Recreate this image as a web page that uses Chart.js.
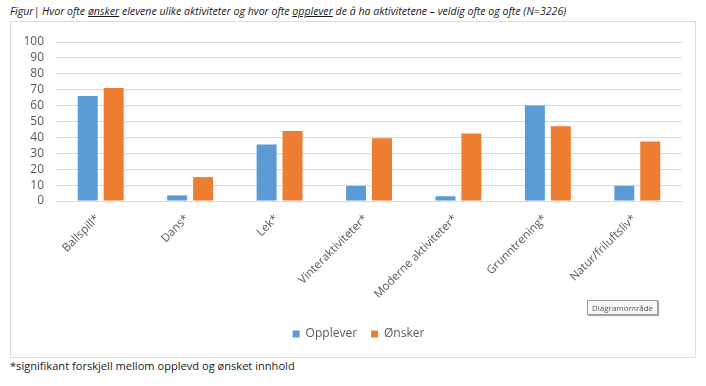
<!DOCTYPE html>
<html>
<head>
<meta charset="utf-8">
<script src="https://cdn.jsdelivr.net/npm/chart.js@4/dist/chart.umd.min.js"></script>
<style>
    body { margin: 0; background: #ffffff; width: 706px; height: 386px; position: relative; overflow: hidden; font-family: "Open Sans", sans-serif; }
    #title { position: absolute; left: 10px; top: 4px; font-size: 10.6px; font-style: italic; color: #1a1a1a; white-space: nowrap; }
    #box { position: absolute; left: 10px; top: 21px; width: 684px; height: 335px; border: 1px solid #dcdcdc; }
    #note { position: absolute; left: 10px; top: 358px; font-size: 11.1px; color: #1a1a1a; white-space: nowrap; }
    #tip { position: absolute; left: 587px; top: 300px; font-size: 8px; color: #555; border: 1px solid #9a9a9a; background: #f8f8f8; padding: 1px 4px; box-shadow: 1px 1px 1px #aaa; }
</style>
</head>
<body>
<div id="title">Figur| Hvor ofte <u>ønsker</u> elevene ulike aktiviteter og hvor ofte <u>opplever</u> de å ha aktivitetene – veldig ofte og ofte (N=3226)</div>
<div id="box"><canvas id="chart" width="684" height="335"></canvas></div>
<div id="tip">Diagramområde</div>
<div id="note">*signifikant forskjell mellom opplevd og ønsket innhold</div>
<script>
const categories = ['Ballspill*', 'Dans*', 'Lek*', 'Vinteraktiviteter*', 'Moderne aktiviteter*', 'Grunntrening*', 'Natur/friluftsliv*'];
const opplever = [66, 3.5, 35.5, 9.5, 3, 60, 9.5];
const onsker = [71, 15, 44, 39.5, 42.5, 47, 37.5];
const yTicks = [0, 10, 20, 30, 40, 50, 60, 70, 80, 90, 100];

// legend in the original sits a bit right of the canvas centre
const shiftLegend = {
    id: 'shiftLegend',
    afterLayout(chart) {
        chart.legend.left += 12;
        chart.legend.right += 12;
    }
};

const ctx = document.getElementById('chart').getContext('2d');
new Chart(ctx, {
    type: 'bar',
    data: {
        labels: categories,
        datasets: [
            {
                label: 'Opplever',
                data: opplever,
                backgroundColor: '#5b9bd5',
                categoryPercentage: 0.58,
                barPercentage: 0.77
            },
            {
                label: 'Ønsker',
                data: onsker,
                backgroundColor: '#ed7d31',
                categoryPercentage: 0.58,
                barPercentage: 0.77
            }
        ]
    },
    plugins: [shiftLegend],
    options: {
        responsive: false,
        animation: false,
        layout: { padding: { top: 20, right: 13, bottom: 7, left: 0 } },
        plugins: {
            legend: {
                position: 'bottom',
                labels: {
                    color: '#595959',
                    font: { family: 'Open Sans', size: 12 },
                    boxWidth: 7,
                    boxHeight: 7,
                    padding: 14
                }
            },
            tooltip: { enabled: false }
        },
        scales: {
            y: {
                min: 0,
                max: 100,
                afterBuildTicks: (scale) => { scale.ticks = yTicks.map(v => ({ value: v })); },
                afterFit: (scale) => { scale.width = 45; },
                border: { display: false },
                grid: { color: '#d9d9d9', drawTicks: false },
                ticks: { color: '#595959', font: { family: 'Open Sans', size: 12 }, padding: 12, autoSkip: false }
            },
            x: {
                afterFit: (scale) => { scale.height = 113; },
                border: { color: '#d9d9d9' },
                grid: { display: false },
                ticks: {
                    color: '#595959',
                    font: { family: 'Open Sans', size: 11.5 },
                    minRotation: 45,
                    maxRotation: 45,
                    autoSkip: false,
                    labelOffset: -3
                }
            }
        }
    }
});
</script>
</body>
</html>
